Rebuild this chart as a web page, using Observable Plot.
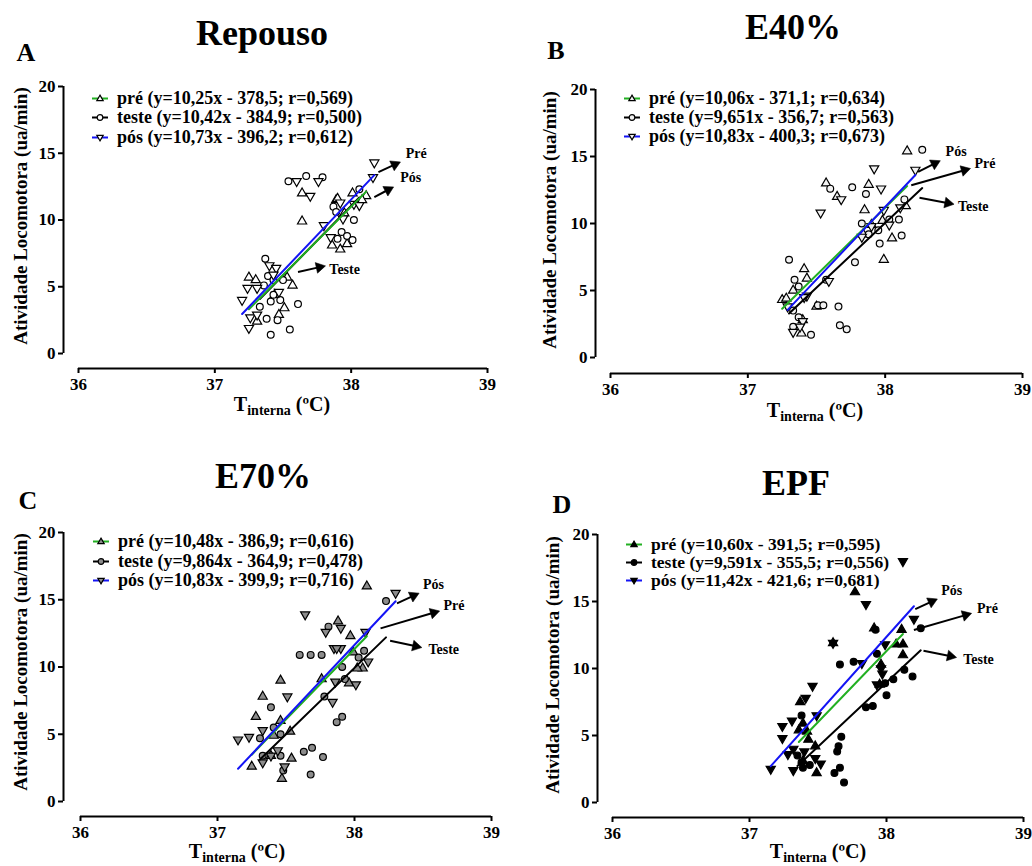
<!DOCTYPE html>
<html><head><meta charset="utf-8">
<script src="https://cdn.jsdelivr.net/npm/d3@7"></script>
<script src="https://cdn.jsdelivr.net/npm/@observablehq/plot@0.6"></script>
<style>
body{margin:0;background:#fff;}
#root{position:relative;width:1032px;height:866px;overflow:hidden;font-family:"Liberation Serif","Times New Roman",serif;font-weight:bold;color:#000;background:#fff;}
.panel{position:absolute;width:516px;height:433px;}
.panel > svg{position:absolute;left:0;top:0;overflow:visible;}
.abs{position:absolute;white-space:nowrap;transform:translate(-50%,-50%);line-height:1;}
.ylab{position:absolute;white-space:nowrap;transform:translate(-50%,-50%) rotate(-90deg);font-size:19px;line-height:1;}
.leg{position:absolute;white-space:nowrap;line-height:15px;height:15px;display:flex;align-items:center;transform:translateY(-50%);}
.leg span{display:inline-block;line-height:15px;height:15px;}
.leg svg{margin-right:9px;}
</style></head>
<body><div id="root"></div>
<script>
// ---- tick labels / categories ----
const tickX = [36, 37, 38, 39];
const tickY = [0, 5, 10, 15, 20];
const panelTitles = ["Repouso", "E40%", "E70%", "EPF"];
const panelLetters = ["A", "B", "C", "D"];
const seriesColors = ["#22b022", "#000000", "#1414f5"]; // pré, teste, pós
const seriesSymbols = ["triangle", "circle", "triangle"];
const seriesRotate = [0, 0, 180];
const markerFill = ["#ffffff", "#f2f2f2", "#8c8c8c", "#000000"];

// ---- regression coefficients (from legends) ----
const slopes = [[10.25, 10.42, 10.73], [10.06, 9.651, 10.83], [10.48, 9.864, 10.83], [10.60, 9.591, 11.42]];
const intercepts = [[-378.5, -384.9, -396.2], [-371.1, -356.7, -400.3], [-386.9, -364.9, -399.9], [-391.5, -355.5, -421.6]];
const legendLabels = [
  ["pré (y=10,25x - 378,5; r=0,569)", "teste (y=10,42x - 384,9; r=0,500)", "pós (y=10,73x - 396,2; r=0,612)"],
  ["pré (y=10,06x - 371,1; r=0,634)", "teste (y=9,651x - 356,7; r=0,563)", "pós (y=10,83x - 400,3; r=0,673)"],
  ["pré (y=10,48x - 386,9; r=0,616)", "teste (y=9,864x - 364,9; r=0,478)", "pós (y=10,83x - 399,9; r=0,716)"],
  ["pré (y=10,60x - 391,5; r=0,595)", "teste (y=9,591x - 355,5; r=0,556)", "pós (y=11,42x - 421,6; r=0,681)"]
];

// ---- data: [T interna, atividade] ----
const repousoPre = [[37.64,12.0],[37.64,9.9],[37.89,11.5],[38.01,12.0],[38.11,11.8],[37.95,10.5],[37.86,8.1],[37.92,7.8],[37.97,8.2],[37.25,5.7],[37.30,5.5],[37.53,5.7],[37.57,5.1],[37.51,3.4],[37.47,2.9],[37.31,2.4],[37.90,11.6],[38.08,11.5],[37.44,4.4]];
const repousoTeste = [[37.54,12.9],[37.67,13.3],[37.79,13.2],[38.06,12.3],[37.87,11.0],[37.89,10.6],[38.02,10.0],[37.93,9.1],[37.97,8.8],[37.90,8.6],[38.01,8.5],[37.37,7.1],[37.39,5.8],[37.36,5.1],[37.43,5.5],[37.50,5.5],[37.41,3.9],[37.48,4.0],[37.33,3.5],[37.61,3.7],[37.38,2.6],[37.46,2.5],[37.55,1.8],[37.41,1.4],[37.43,4.4]];
const repousoPos = [[38.17,14.3],[38.16,13.2],[37.60,12.9],[37.76,12.9],[37.70,11.8],[37.80,9.6],[38.02,11.2],[38.06,11.1],[37.94,10.1],[37.85,8.7],[37.40,6.6],[37.45,6.4],[37.24,4.9],[37.31,4.9],[37.20,4.0],[37.26,2.7],[37.31,2.9],[37.25,1.9],[37.47,4.6],[37.43,5.9],[37.92,11.3]];

const e40Pre = [[38.16,15.4],[37.88,12.9],[37.57,13.0],[37.65,12.0],[37.85,11.0],[38.05,8.9],[37.99,7.3],[38.15,11.3],[37.90,9.9],[37.98,10.2],[37.41,6.6],[37.43,5.9],[37.33,5.0],[37.25,4.3],[37.28,4.4],[37.50,3.8],[37.39,1.8],[37.40,2.8],[37.84,9.2]];
const e40Teste = [[38.27,15.5],[37.76,12.7],[37.60,12.6],[37.86,12.2],[37.83,10.0],[37.88,9.2],[37.95,9.5],[38.10,10.3],[38.14,11.8],[38.12,9.1],[37.96,8.5],[37.78,7.1],[37.30,7.3],[37.34,5.8],[37.37,5.3],[37.57,5.8],[37.51,3.9],[37.55,3.9],[37.66,3.8],[37.33,3.5],[37.37,3.0],[37.33,2.3],[37.46,1.7],[37.67,2.4],[37.72,2.1],[38.03,10.3]];
const e40Pos = [[38.22,14.0],[37.92,14.1],[37.97,12.6],[37.68,11.8],[37.53,10.8],[37.99,11.0],[38.03,9.9],[37.90,9.8],[37.83,9.0],[38.11,11.2],[37.59,5.7],[37.43,4.6],[37.40,2.7],[37.33,1.9],[37.41,4.5],[37.29,3.8],[37.38,2.3]];

const e70Pre = [[38.09,16.0],[37.46,9.0],[37.33,7.8],[37.28,6.3],[37.46,6.0],[37.53,5.2],[37.54,3.2],[37.25,2.6],[37.47,1.7],[37.88,13.4],[37.97,12.3],[37.76,9.1],[37.96,8.8],[38.06,9.9],[38.02,9.9],[37.99,11.1],[37.41,4.9],[37.39,3.4]];
const e70Teste = [[38.23,14.9],[37.81,13.0],[37.60,10.9],[37.68,10.9],[37.76,10.9],[37.91,10.0],[38.03,10.7],[38.07,11.2],[37.93,9.1],[37.78,7.8],[37.39,7.0],[37.91,6.3],[37.87,5.9],[37.41,5.5],[37.46,5.0],[37.31,4.7],[37.33,3.4],[37.46,3.4],[37.63,3.7],[37.69,4.0],[37.77,3.3],[37.48,2.3],[37.68,2.0]];
const e70Pos = [[38.30,15.5],[37.64,13.9],[37.79,12.6],[37.90,12.9],[37.85,11.4],[37.90,11.4],[38.08,12.6],[38.10,10.4],[38.01,8.7],[37.86,8.9],[37.84,7.4],[37.51,7.8],[37.15,4.6],[37.23,4.8],[37.33,5.3],[37.33,2.9],[37.44,3.8],[37.39,3.4],[37.49,2.6],[37.87,11.4]];

const epfPre = [[37.77,15.7],[38.11,12.9],[38.12,11.0],[38.12,11.8],[38.07,11.8],[37.37,7.5],[37.39,5.9],[37.43,4.7],[37.48,4.2],[37.49,2.2],[37.42,5.3],[37.95,8.8],[37.96,10.3],[37.61,11.9],[37.91,13.0],[37.36,5.4],[37.39,3.1]];
const epfTeste = [[38.25,13.0],[37.92,12.9],[37.93,11.1],[37.66,10.3],[37.76,10.5],[37.99,8.9],[38.05,9.2],[38.00,8.0],[38.13,9.9],[38.19,9.4],[37.85,7.1],[37.90,7.2],[37.38,6.5],[37.67,4.9],[37.65,4.2],[37.64,3.8],[37.35,3.5],[37.38,3.0],[37.39,2.6],[37.62,2.2],[37.66,2.6],[37.69,1.5],[37.44,2.8]];
const epfPos = [[38.12,18.0],[37.85,14.8],[38.20,13.7],[37.99,11.8],[37.96,10.0],[37.97,9.6],[37.82,10.4],[37.61,11.9],[37.46,8.7],[37.41,7.8],[37.49,6.5],[37.24,5.7],[37.31,6.1],[37.24,4.8],[37.32,4.0],[37.28,3.6],[37.155,2.5],[37.32,2.4],[37.48,3.3],[37.52,2.9],[37.40,3.8],[37.93,8.8]];

const panelData = [
  [repousoPre, repousoTeste, repousoPos],
  [e40Pre, e40Teste, e40Pos],
  [e70Pre, e70Teste, e70Pos],
  [epfPre, epfTeste, epfPos]
];

// ---- arrow annotations: [x1, y1, x2, y2, labelX, labelY, text] ----
const annotRepouso = [[38.20,13.59,38.36,14.34,38.40,15.0,"Pré"],[38.17,11.72,38.31,12.47,38.36,13.2,"Pós"],[37.61,6.11,37.81,6.56,37.84,6.3,"Teste"]];
const annotE40 = [[38.24,13.86,38.40,14.68,38.44,15.35,"Pós"],[38.19,12.86,38.62,14.1,38.65,14.5,"Pré"],[38.25,11.92,38.50,11.44,38.53,11.3,"Teste"]];
const annotE70 = [[38.31,14.73,38.47,15.48,38.50,16.15,"Pós"],[38.19,12.87,38.62,14.16,38.65,14.55,"Pré"],[38.26,11.95,38.49,11.45,38.54,11.3,"Teste"]];
const annotEPF = [[38.21,14.43,38.37,15.18,38.40,15.85,"Pós"],[38.20,12.87,38.62,14.11,38.66,14.5,"Pré"],[38.27,11.33,38.51,10.83,38.56,10.7,"Teste"]];
const panelAnnots = [annotRepouso, annotE40, annotE70, annotEPF];

// ---- layout (pixels) ----
const layout = [
  {ox:0,   oy:0,   yAxisX:63, y20:86,  y0:353, xAxisY:368, x36:78, x39:487, title:[262,33], letter:[26,53], xlab:[282,404], ylab:[20,216], leg:{lx:92,  fs:18, rows:[98,117,137]}},
  {ox:516, oy:0,   yAxisX:79, y20:89,  y0:357, xAxisY:373, x36:94, x39:506, title:[277,27], letter:[40,51], xlab:[299,410], ylab:[33,220], leg:{lx:108, fs:18, rows:[98,117,136]}},
  {ox:0,   oy:433, yAxisX:63, y20:99,  y0:368, xAxisY:383, x36:80, x39:491, title:[263,43], letter:[28,68], xlab:[237,418], ylab:[20,229], leg:{lx:93,  fs:18, rows:[108,128,147]}},
  {ox:516, oy:433, yAxisX:81, y20:101, y0:369, xAxisY:384, x36:96, x39:507, title:[280,50], letter:[46,72], xlab:[302,418], ylab:[36,232], leg:{lx:110, fs:17.5, rows:[111,129,147]}}
];

const root = document.getElementById("root");

function legendSymbol(s, fill) {
  const c = seriesColors[s];
  let m;
  if (s === 1) m = `<circle cx="8" cy="7" r="2.8" fill="${fill}" stroke="#000" stroke-width="1.2"/>`;
  else if (s === 0) m = `<path d="M8,3.6 L11.2,9.2 L4.8,9.2 Z" fill="${fill}" stroke="#000" stroke-width="1.2"/>`;
  else m = `<path d="M8,10.4 L11.2,4.8 L4.8,4.8 Z" fill="${fill}" stroke="#000" stroke-width="1.2"/>`;
  return `<svg width="16" height="14" viewBox="0 0 16 14"><line x1="0" y1="7" x2="16" y2="7" stroke="${c}" stroke-width="2"/>${m}</svg>`;
}

layout.forEach((g, p) => {
  const div = document.createElement("div");
  div.className = "panel";
  div.style.left = g.ox + "px";
  div.style.top = g.oy + "px";
  root.appendChild(div);

  const series = panelData[p];
  const fill = markerFill[p];
  const kx = (g.x39 - g.x36) / 3, ky = (g.y0 - g.y20) / 20; // px per data unit
  const dotMarks = series.map((pts, s) => Plot.dot(pts, {
    x: d => d[0], y: d => d[1], symbol: seriesSymbols[s], rotate: seriesRotate[s],
    r: 3.4, stroke: "#000", strokeWidth: 1.2, fill
  }));
  const lineMarks = [1, 0, 2].map(s => {
    const xs = series[s].map(d => d[0]);
    const lo = d3.min(xs), hi = d3.max(xs);
    const a = slopes[p][s], b = intercepts[p][s];
    return Plot.line([[lo, a * lo + b], [hi, a * hi + b]], {x: d => d[0], y: d => d[1], stroke: seriesColors[s], strokeWidth: 2});
  });
  const ann = panelAnnots[p];
  // arrow heads: filled triangles pointing along each arrow, tip at (x2, y2)
  const heads = ann.map(d => {
    const sx = (d[2] - d[0]) * kx, sy = (d[3] - d[1]) * ky;
    const len = Math.hypot(sx, sy), back = 6;
    return {x: d[2] - (sx / len) * back / kx, y: d[3] - (sy / len) * back / ky,
            bx: d[2] - (sx / len) * 8 / kx, by: d[3] - (sy / len) * 8 / ky,
            angle: Math.atan2(sx, sy) * 180 / Math.PI, x1: d[0], y1: d[1]};
  });

  const chart = Plot.plot({
    width: 516, height: 433,
    marginLeft: g.yAxisX, marginRight: 516 - g.x39, marginTop: g.y20, marginBottom: 433 - g.xAxisY,
    x: {domain: [36, 39], range: [g.x36, g.x39]},
    y: {domain: [0, 20], range: [g.y0, g.y20]},
    style: {background: "transparent", fontFamily: "'Liberation Serif', 'Times New Roman', serif", fontSize: "17px", fontWeight: "bold", color: "#000", overflow: "visible"},
    marks: [
      Plot.ruleX([36], {y1: 0, y2: 20, dx: g.yAxisX - g.x36, strokeWidth: 2}),
      Plot.ruleY([0], {x1: 36, x2: 39, dy: g.xAxisY - g.y0, strokeWidth: 2}),
      Plot.axisY({ticks: tickY, tickFormat: "d", tickSize: 5, tickPadding: 3, strokeWidth: 2, label: null, fontSize: 17, fontWeight: "bold"}),
      Plot.axisX({ticks: tickX, tickFormat: "d", tickSize: 5, tickPadding: 4, strokeWidth: 2, label: null, fontSize: 17, fontWeight: "bold"}),
      ...dotMarks,
      ...lineMarks,
      Plot.link(heads, {x1: "x1", y1: "y1", x2: "bx", y2: "by", strokeWidth: 2, stroke: "#000"}),
      Plot.dot(heads, {x: "x", y: "y", symbol: "triangle", rotate: "angle", r: 4, fill: "#000", stroke: "#000", strokeWidth: 0.5}),
      Plot.text(ann, {x: d => d[4], y: d => d[5], text: d => d[6], textAnchor: "start", fontSize: 14, fontWeight: "bold", fill: "#000"})
    ]
  });
  div.appendChild(chart);

  const add = (cls, html, x, y, style) => {
    const e = document.createElement("div");
    e.className = cls; e.innerHTML = html;
    e.style.left = x + "px"; e.style.top = y + "px";
    if (style) e.style.cssText += style;
    div.appendChild(e);
  };
  add("abs", panelTitles[p], g.title[0], g.title[1], "font-size:36px;");
  add("abs", panelLetters[p], g.letter[0], g.letter[1], "font-size:26px;");
  add("abs", `T<span style="font-size:14px;position:relative;top:4px;">interna</span> (ºC)`, g.xlab[0], g.xlab[1], "font-size:20px;");
  add("ylab", "Atividade Locomotora (ua/min)", g.ylab[0], g.ylab[1]);
  legendLabels[p].forEach((lab, s) => {
    add("leg", legendSymbol(s, fill) + `<span>${lab}</span>`, g.leg.lx, g.leg.rows[s], `font-size:${g.leg.fs}px;`);
  });
});
</script>
</body></html>
